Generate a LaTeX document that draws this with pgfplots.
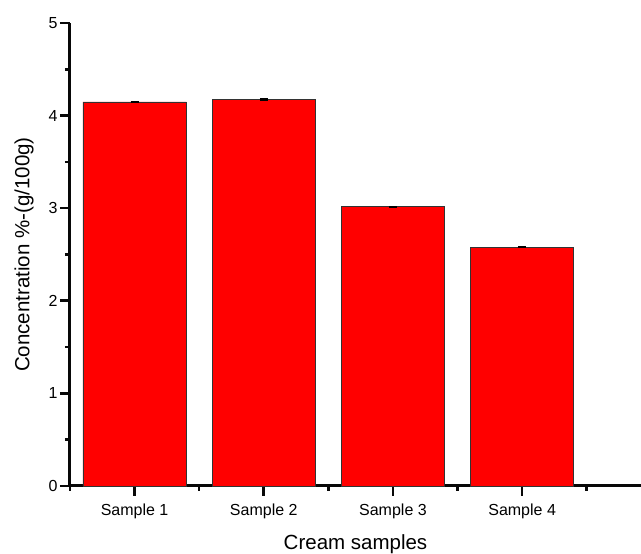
\documentclass[border=0pt]{standalone}
\usepackage{pgfplots}
\pgfplotsset{compat=1.18}
\usepackage{fontspec}
\setmainfont{Liberation Sans}
\definecolor{axblack}{RGB}{8,8,8}
\begin{document}
\begin{tikzpicture}
\path[use as bounding box] (-70pt,-68pt) rectangle (571pt,486pt);
\begin{axis}[
  at={(0pt,0pt)}, anchor=south west,
  scale only axis, width=571pt, height=463pt,
  xmin=0.5, xmax=4.92, ymin=0, ymax=5,
  axis x line*=bottom, axis y line*=left,
  axis line style={line width=3pt, axblack},
  every tick/.append style={line width=2.6pt, axblack},
  tick align=outside,
  major tick length=10pt, minor tick length=5pt,
  xtick={1,2,3,4}, xticklabels={Sample 1,Sample 2,Sample 3,Sample 4},
  minor xtick={0.5,1.5,2.5,3.5,4.5},
  ytick={0,1,2,3,4,5}, minor ytick={0.5,1.5,2.5,3.5,4.5},
  /pgf/number format/assume math mode=true,
  tick label style={font=\fontsize{16}{19}\selectfont, black},
  xticklabel style={yshift=-4pt},
  yticklabel style={xshift=1pt},
  xlabel={Cream samples}, ylabel={Concentration \%-(g/100g)},
  label style={font=\fontsize{20.5}{24}\selectfont, black},
  xlabel style={yshift=-9pt},
  ylabel style={yshift=8pt},
  clip=false,
]
\addplot[ybar, bar width=0.8, fill=red, draw=black!80, line width=0.8pt,
  error bars/.cd, y dir=both, y explicit,
  error bar style={line width=1.6pt, black},
  error mark options={rotate=90, mark size=4pt, line width=1.6pt, black}]
  coordinates {(1,4.147) +- (0,0.004) (2,4.170) +- (0,0.006) (3,3.016) +- (0,0.002) (4,2.580) +- (0,0.002)};
\end{axis}
\end{tikzpicture}
\end{document}
